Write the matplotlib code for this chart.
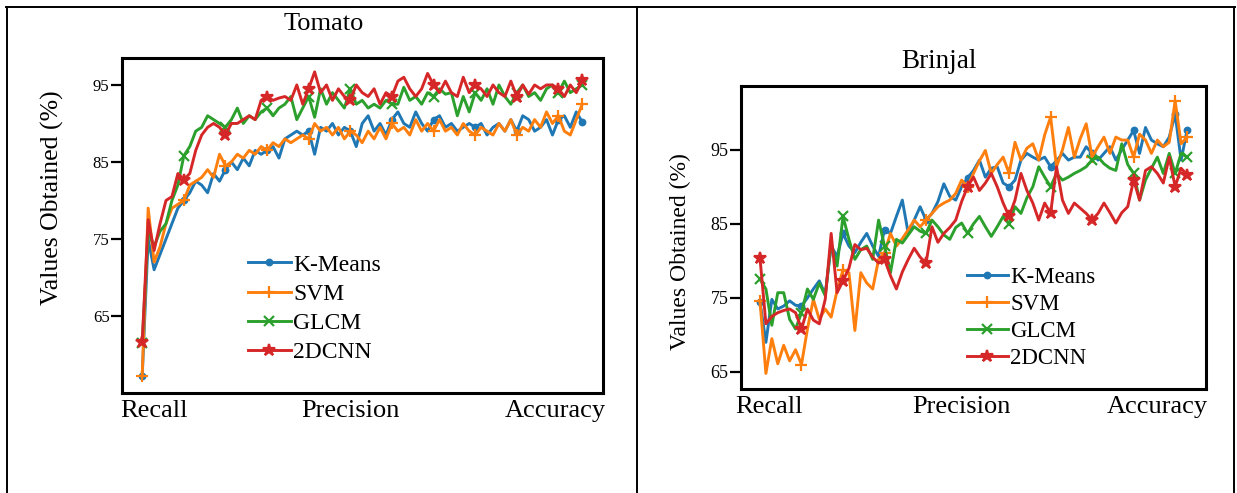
import matplotlib
matplotlib.use("Agg")
import matplotlib.pyplot as plt
from matplotlib.lines import Line2D

plt.rcParams['font.family'] = ['Liberation Serif', 'DejaVu Serif']

# series names and category labels
methods = ["K-Means", "SVM", "GLCM", "2DCNN"]
metric_labels = ["Recall", "Precision", "Accuracy"]

# Tomato values (%)
tomato_kmeans = [57.2, 75, 71, 73, 75, 77, 79, 80, 81, 82.5,
                 82, 81, 83.5, 82.5, 84, 85, 84, 85.5, 84.5, 86.5,
                 86, 86.5, 87, 85.5, 88, 88.5, 89, 88.5, 89, 86,
                 89.5, 89, 90, 88.5, 89.5, 89, 87, 90, 91, 89,
                 90, 88.5, 90.5, 91.5, 90, 89.5, 91.5, 90, 89, 90.5,
                 91, 89.5, 90, 89, 89.5, 90, 89.5, 90, 88.5, 89.5,
                 90, 89, 90.5, 89, 91, 90.5, 89, 89.5, 90.5, 88.5,
                 90.5, 91, 89.5, 91.5, 90.2]
tomato_svm = [57.2, 79, 72, 74, 77, 79, 79.5, 80, 82, 82.5,
              83, 84, 83, 86, 84.5, 85, 86, 85.5, 86.5, 86,
              87, 86.5, 87.5, 87, 88, 87.5, 88, 88.5, 88, 90,
              89, 89.5, 88.5, 89.5, 88, 89, 88.5, 87.5, 89, 88,
              89.5, 88, 90, 89, 89.5, 88.5, 90.5, 89, 90, 89,
              90.5, 89, 89.5, 88.5, 90, 89, 88.5, 89.5, 89, 88.5,
              90, 89, 90.5, 88.5, 89.5, 89, 90.5, 89.5, 91.5, 90,
              91, 89, 88.5, 90.5, 92.5]
tomato_glcm = [61.5, 76, 74, 76, 77, 80, 82, 85.8, 87, 89,
               89.5, 91, 90.5, 90, 89.5, 90.5, 92, 90, 91, 90.5,
               91.5, 92, 91, 92, 92.5, 93.5, 90.5, 92, 93.5, 90.8,
               94.5, 92.5, 94, 93, 92, 94.5, 92.5, 93, 92, 92.5,
               92, 93, 92.5, 92.5, 94.7, 93, 93.5, 92.5, 94, 93.5,
               94.5, 93.8, 94, 91, 93.5, 91.5, 94, 93, 94.5, 92.5,
               95, 93.5, 92.5, 94, 95, 93.5, 94, 93, 94.5, 95,
               94, 95.5, 94, 94.5, 95]
tomato_cnn = [61.6, 77.5, 73.5, 77, 80, 80.5, 83.5, 82.7, 83.5, 86.5,
              88.5, 89.5, 90, 89.5, 88.5, 90, 90, 90.5, 91, 90.5,
              93, 93.5, 93, 93.3, 93.5, 93, 95, 92.5, 94.5, 96.7,
              94, 95, 93, 94.5, 93.5, 93, 95, 94, 93.5, 94.5,
              92.5, 94, 93.5, 95.5, 96, 94.5, 93.5, 94.5, 96.5, 95,
              94, 95.5, 94, 93.5, 96, 94, 95, 94.5, 93.5, 95,
              94, 93.5, 95.5, 93.5, 95, 93.8, 95, 94.5, 95, 95,
              94.5, 93.5, 95, 94, 95.6]

# Brinjal values (%)
brinjal_kmeans = [74.5, 69, 74.8, 73.5, 73.9, 74.6, 74, 73.9, 75, 76.2,
                  77.3, 75.5, 82, 80.6, 83.7, 82, 81.1, 82.5, 83.7, 82,
                  80.6, 84.2, 83.7, 86, 88.2, 83.7, 85.5, 87.3, 85.5, 86.4,
                  88, 90.4, 88.7, 88.2, 90, 91.2, 92.2, 93.6, 91.3, 92.5,
                  92.7, 90.5, 90, 90.9, 93.6, 94.5, 94, 93.6, 94, 92.7,
                  93.5, 94.5, 93.6, 94, 94, 95.4, 94.5, 93.6, 94.5, 95.4,
                  93.6, 95, 96.3, 97.6, 94.5, 98, 96.3, 95.8, 95.4, 96.7,
                  99.8, 93.6, 97.6]
brinjal_svm = [74.6, 64.8, 69.5, 66.1, 68.6, 66.5, 68, 66, 70.8, 74.8,
               72.1, 73.5, 72.4, 76, 78.8, 78.4, 70.6, 78.4, 77, 76.2,
               80.2, 81.1, 83.7, 82, 83, 84.2, 85.5, 84.6, 85.5, 86.4,
               87.3, 87.8, 88.2, 89.1, 90.9, 90, 91.8, 93.5, 94.9, 91.8,
               93, 94, 91.8, 96, 93.6, 95.2, 95.8, 93.6, 97, 99.4,
               92.7, 95, 98, 94, 96.5, 98.5, 94, 95.4, 96.7, 94.5,
               96.7, 96.3, 96.3, 94, 97.1, 96.3, 94.5, 96.3, 95.4, 96,
               101.6, 95.8, 96.7]
brinjal_glcm = [77.5, 76.2, 71.3, 75.7, 75.7, 72.1, 70.8, 73, 76.2, 74.8,
                77, 75.3, 82.4, 79.3, 86, 82.9, 80.2, 81.5, 82, 80.2,
                85.5, 82, 78.4, 82.9, 82.4, 83.5, 84.6, 84, 83.7, 85.5,
                84.6, 83.5, 82.9, 84.5, 85.1, 83.7, 85, 86, 84.6, 83.3,
                84.6, 86, 85, 87.3, 86.4, 88.5, 90, 92.7, 91.3, 90,
                91.8, 90.9, 91.3, 91.8, 92.2, 92.7, 93.6, 94, 93.1, 92.5,
                92.2, 95.8, 93, 91.8, 88.2, 90.9, 92.5, 94, 91.8, 94.5,
                91.8, 94.5, 94]
brinjal_cnn = [80.4, 71.5, 72.5, 73, 73.3, 73.5, 73, 70.8, 73.5, 72,
               71.5, 74.8, 83.7, 75.7, 77.3, 79, 82.2, 81.5, 81.7, 80.5,
               79.7, 80.2, 78, 76.2, 78.5, 80.2, 81.7, 80.5, 79.7, 84.6,
               82.5, 83.7, 84.5, 85.5, 88, 90, 91.3, 89.5, 90.5, 91.8,
               90, 87.8, 86, 88.2, 91.8, 89.5, 87.8, 85.5, 87.8, 86.4,
               92.7, 88.2, 86.4, 87.8, 87.1, 86.4, 85.5, 86.4, 87.8, 86.5,
               85.1, 86.5, 87.3, 90.9, 88.2, 92.2, 92.7, 91.8, 90.5, 94,
               90, 92.5, 91.6]

colors = ['#1f77b4', '#ff7f0e', '#2ca02c', '#d62728']
markers = ['o', '+', 'x', '*']
msizes = [4, 9, 7, 9]

W, H = 1237, 493
fig = plt.figure(figsize=(W / 100, H / 100), dpi=100)


def px_rect(x0, y0, x1, y1):
    # pixel box (top-left origin) -> figure fraction rect
    return [x0 / W, 1 - y1 / H, (x1 - x0) / W, (y1 - y0) / H]


def panel(rect, series, ylim, xlim, label_pos, tick_fs, leg_anchor, leg_fs, leg_space):
    ax = fig.add_axes(rect)
    for vals, name, c, m, ms in zip(series, methods, colors, markers, msizes):
        n = len(vals)
        every = list(range(0, n, 7)) + [n - 1]
        ax.plot(range(n), vals, color=c, lw=2.1, marker=m, ms=ms, mew=1.6,
                markevery=every, label=name)
    ax.set_ylim(*ylim)
    ax.set_xlim(*xlim)
    ax.set_yticks([65, 75, 85, 95])
    ax.tick_params(axis='y', length=8, width=1.6, labelsize=tick_fs, pad=1)
    ax.set_xticks(label_pos)
    ax.set_xticklabels(metric_labels, fontsize=19)
    ax.tick_params(axis='x', length=0, pad=5)
    for s in ax.spines.values():
        s.set_linewidth(2.2)
    ax.legend(loc='upper left', bbox_to_anchor=leg_anchor, frameon=False,
              fontsize=leg_fs, handlelength=1.8, handletextpad=0.1,
              labelspacing=leg_space, borderpad=0, borderaxespad=0)
    return ax


panel(px_rect(122, 58, 603, 393),
      [tomato_kmeans, tomato_svm, tomato_glcm, tomato_cnn],
      (55.0, 98.5), (-3.4, 77.5), [2.0, 35.0, 69.4], 12,
      (0.262, 0.415), 17, 0.33)
panel(px_rect(741, 86, 1206, 389),
      [brinjal_kmeans, brinjal_svm, brinjal_glcm, brinjal_cnn],
      (62.7, 103.6), (-3.2, 75.2), [1.5, 33.9, 67.0], 13,
      (0.485, 0.403), 16.5, 0.26)

# titles and y labels
fig.text(324 / W, 1 - 24 / H, "Tomato", ha='center', va='center', fontsize=19)
fig.text(939 / W, 1 - 62 / H, "Brinjal", ha='center', va='center', fontsize=19.5)
fig.text(52 / W, 1 - 198 / H, "Values Obtained (%)", rotation=90,
         ha='center', va='center', fontsize=18.5)
fig.text(680 / W, 1 - 252 / H, "Values Obtained (%)", rotation=90,
         ha='center', va='center', fontsize=17)

# table borders
border = dict(color='black', lw=1.4, transform=fig.transFigure)
fig.add_artist(Line2D([6 / W, 1235 / W], [1 - 7 / H, 1 - 7 / H], **border))
for xb in (7, 637, 1234):
    fig.add_artist(Line2D([xb / W, xb / W], [1 - 7 / H, 0], **border))

fig.savefig("out.png", dpi=100)
